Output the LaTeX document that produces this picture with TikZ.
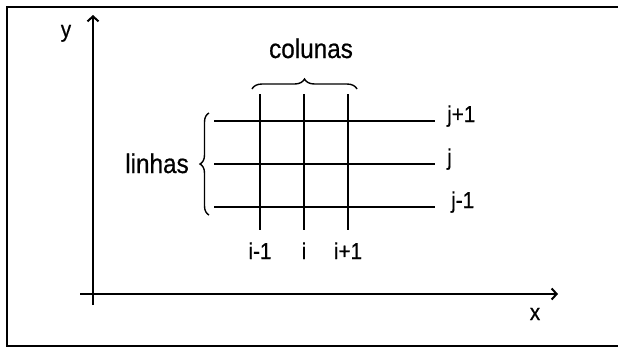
\documentclass[tikz,border=0pt]{standalone}
\usepackage{fontspec}
\setmainfont{Liberation Sans}
\newfontfamily\scanfont{Liberation Sans}[FakeStretch=0.9, FakeBold=0.6]
\usetikzlibrary{arrows.meta,decorations.pathreplacing}

\begin{document}
\begin{tikzpicture}[x=1pt, y=-1pt, font=\scanfont\fontsize{23}{27}\selectfont,
    axisline/.style={line width=2pt, -{Straight Barb[length=5pt,width=11pt]}},
    gridline/.style={line width=2.4pt},
    bracebox/.style={line width=1.4pt, decorate, decoration={brace, amplitude=10pt}},
    wordlabel/.style={font=\scanfont\fontsize{27}{31}\selectfont}]
    \useasboundingbox (0,0) rectangle (618,349);

    % frame
    \draw[line width=2pt] (618,7) -- (7,7) -- (7,346) -- (618,346);

    % axes
    \coordinate (origin) at (93,294);
    \coordinate (ytop) at (93,15);
    \coordinate (ybot) at (93,305);
    \coordinate (xleft) at (80,294);
    \coordinate (xright) at (558,294);
    \draw[axisline] (ybot) -- (ytop);
    \draw[axisline] (xleft) -- (xright);
    \node[anchor=base] (ylab) at (66,37) {y};
    \node[anchor=base] (xlab) at (535,320) {x};

    % columns
    \foreach \x/\lab/\name in {260/i-1/im, 304/i/ic, 348/i+1/ip} {
        \draw[gridline] (\x,94) -- (\x,230);
        \node[anchor=base] (\name) at (\x,259) {\lab};
    }

    % rows
    \foreach \y/\lab/\name/\lx in {121/j+1/jp/447, 164/j/jc/447, 207/j-1/jm/451} {
        \draw[gridline] (214,\y) -- (435,\y);
        \node[anchor=base west, inner sep=0pt] (\name) at (\lx,\y+1) {\lab};
    }

    % braces
    \draw[bracebox] (252,89) -- (357,89);
    \node[wordlabel, anchor=base] (colunas) at (311,58) {colunas};
    \draw[bracebox, decoration={amplitude=9pt}] (209,215) -- (209,113);
    \node[wordlabel, anchor=base] (linhas) at (157,173) {linhas};
\end{tikzpicture}
\end{document}
